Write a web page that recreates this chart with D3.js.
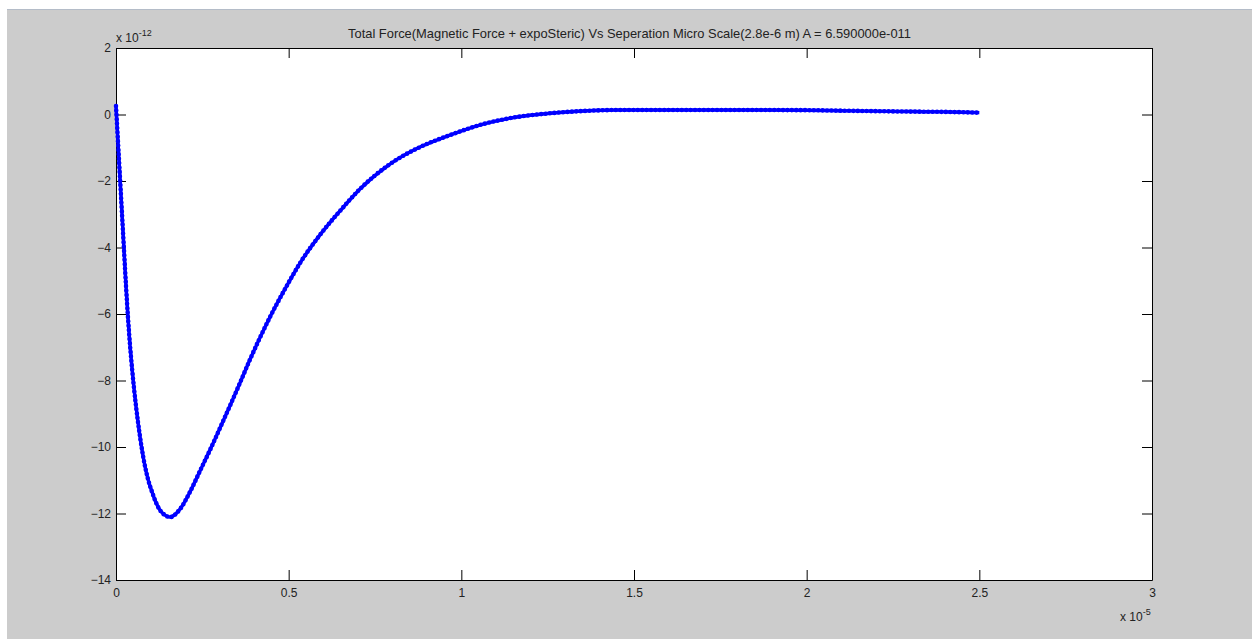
<!DOCTYPE html>
<html>
<head>
<meta charset="utf-8">
<script src="https://cdn.jsdelivr.net/npm/d3@7"></script>
<style>
  body { margin: 0; background: #fff; }
  text { font-family: "Liberation Sans", Arial, sans-serif; fill: #222; }
</style>
</head>
<body>
<svg id="chart" width="1252" height="639"></svg>
<script>
// separation, in units of 1e-5 m
var sepX = [0, 0.0058, 0.0116, 0.0174, 0.0232, 0.029, 0.0348, 0.0405, 0.0463, 0.0521,
    0.0579, 0.0637, 0.0695, 0.0753, 0.084, 0.0927, 0.1043, 0.1158, 0.1274, 0.1419,
    0.1564, 0.1853, 0.2143, 0.2432, 0.2722, 0.3012, 0.3301, 0.3591, 0.388, 0.417,
    0.446, 0.4749, 0.5039, 0.5328, 0.5908, 0.6487, 0.7066, 0.7934, 0.8803, 0.9672,
    1.0627, 1.1612, 1.2568, 1.3523, 1.4595, 1.6419, 1.8, 2.0, 2.1, 2.2,
    2.3, 2.4, 2.45, 2.5];
// total force, in units of 1e-12 N
var forceY = [0.256, -0.83, -1.91, -2.99, -4.08, -5.16, -6.12, -6.93, -7.62, -8.23,
    -8.77, -9.25, -9.69, -10.08, -10.58, -10.97, -11.35, -11.67, -11.9, -12.05,
    -12.11, -11.87, -11.35, -10.72, -10.09, -9.43, -8.76, -8.07, -7.37, -6.71,
    -6.09, -5.52, -4.98, -4.47, -3.62, -2.9, -2.24, -1.49, -0.98, -0.62,
    -0.29, -0.075, 0.036, 0.105, 0.135, 0.135, 0.135, 0.13, 0.115, 0.1,
    0.088, 0.078, 0.068, 0.055];
var xTicks = [0, 0.5, 1, 1.5, 2, 2.5, 3];
var yTicks = [-14, -12, -10, -8, -6, -4, -2, 0, 2];
var title = "Total Force(Magnetic Force + expoSteric) Vs Seperation Micro Scale(2.8e-6 m) A = 6.590000e-011";

(function () {
    'use strict';

    var svg = d3.select("#chart");
    var left = 116, right = 1152, top = 48, bottom = 580;

    // figure background
    svg.append("rect")
        .attr("x", 7).attr("y", 9)
        .attr("width", 1245).attr("height", 630)
        .attr("fill", "#cccccc");
    svg.append("line")
        .attr("x1", 7).attr("x2", 1252).attr("y1", 9.5).attr("y2", 9.5)
        .attr("stroke", "#b4bcc8");

    svg.append("rect")
        .attr("x", left).attr("y", top)
        .attr("width", right - left).attr("height", bottom - top)
        .attr("fill", "white");

    var x = d3.scaleLinear().domain([0, 3]).range([left, right]);
    var y = d3.scaleLinear().domain([-14, 2]).range([bottom, top]);

    var fmt = function (d) { return d3.format("")(d); };

    function styleAxis(g) {
        g.selectAll("line").attr("stroke", "#000");
        g.select(".domain").attr("stroke", "#000");
        g.selectAll("text").attr("font-size", 12)
            .attr("font-family", "Liberation Sans, Arial, sans-serif")
            .attr("fill", "#222");
    }

    svg.append("g")
        .attr("transform", "translate(0," + bottom + ")")
        .call(d3.axisBottom(x).tickValues(xTicks).tickFormat(fmt)
            .tickSizeInner(-10).tickSizeOuter(0).tickPadding(8))
        .call(styleAxis);
    svg.append("g")
        .attr("transform", "translate(0," + top + ")")
        .call(d3.axisTop(x).tickValues(xTicks).tickFormat("")
            .tickSizeInner(-10).tickSizeOuter(0))
        .call(styleAxis);
    svg.append("g")
        .attr("transform", "translate(" + left + ",0)")
        .call(d3.axisLeft(y).tickValues(yTicks).tickFormat(fmt)
            .tickSizeInner(-10).tickSizeOuter(0).tickPadding(5))
        .call(styleAxis);
    svg.append("g")
        .attr("transform", "translate(" + right + ",0)")
        .call(d3.axisRight(y).tickValues(yTicks).tickFormat("")
            .tickSizeInner(-10).tickSizeOuter(0))
        .call(styleAxis);

    // the curve: a line plus a dense dotted stroke that mimics the '.' markers
    var pts = sepX.map(function (d, i) { return [d, forceY[i]]; });
    var line = d3.line()
        .x(function (d) { return x(d[0]); })
        .y(function (d) { return y(d[1]); })
        .curve(d3.curveMonotoneX);

    svg.append("path")
        .attr("d", line(pts))
        .attr("fill", "none")
        .attr("stroke", "#0000ff")
        .attr("stroke-width", 3.4);
    svg.append("path")
        .attr("d", line(pts))
        .attr("fill", "none")
        .attr("stroke", "#0000ff")
        .attr("stroke-width", 4.6)
        .attr("stroke-linecap", "round")
        .attr("stroke-dasharray", "0 4.4");

    // title
    svg.append("text")
        .attr("x", 629.5).attr("y", 38)
        .attr("text-anchor", "middle")
        .attr("font-size", 12.9)
        .text(title);

    // exponent labels
    var ey = svg.append("text").attr("x", 116).attr("y", 42).attr("font-size", 12);
    ey.append("tspan").text("x 10");
    ey.append("tspan").attr("font-size", 9).attr("dy", -6).text("-12");

    var ex = svg.append("text").attr("x", 1120).attr("y", 621).attr("font-size", 12);
    ex.append("tspan").text("x 10");
    ex.append("tspan").attr("font-size", 9).attr("dy", -6).text("-5");
})();
</script>
</body>
</html>
